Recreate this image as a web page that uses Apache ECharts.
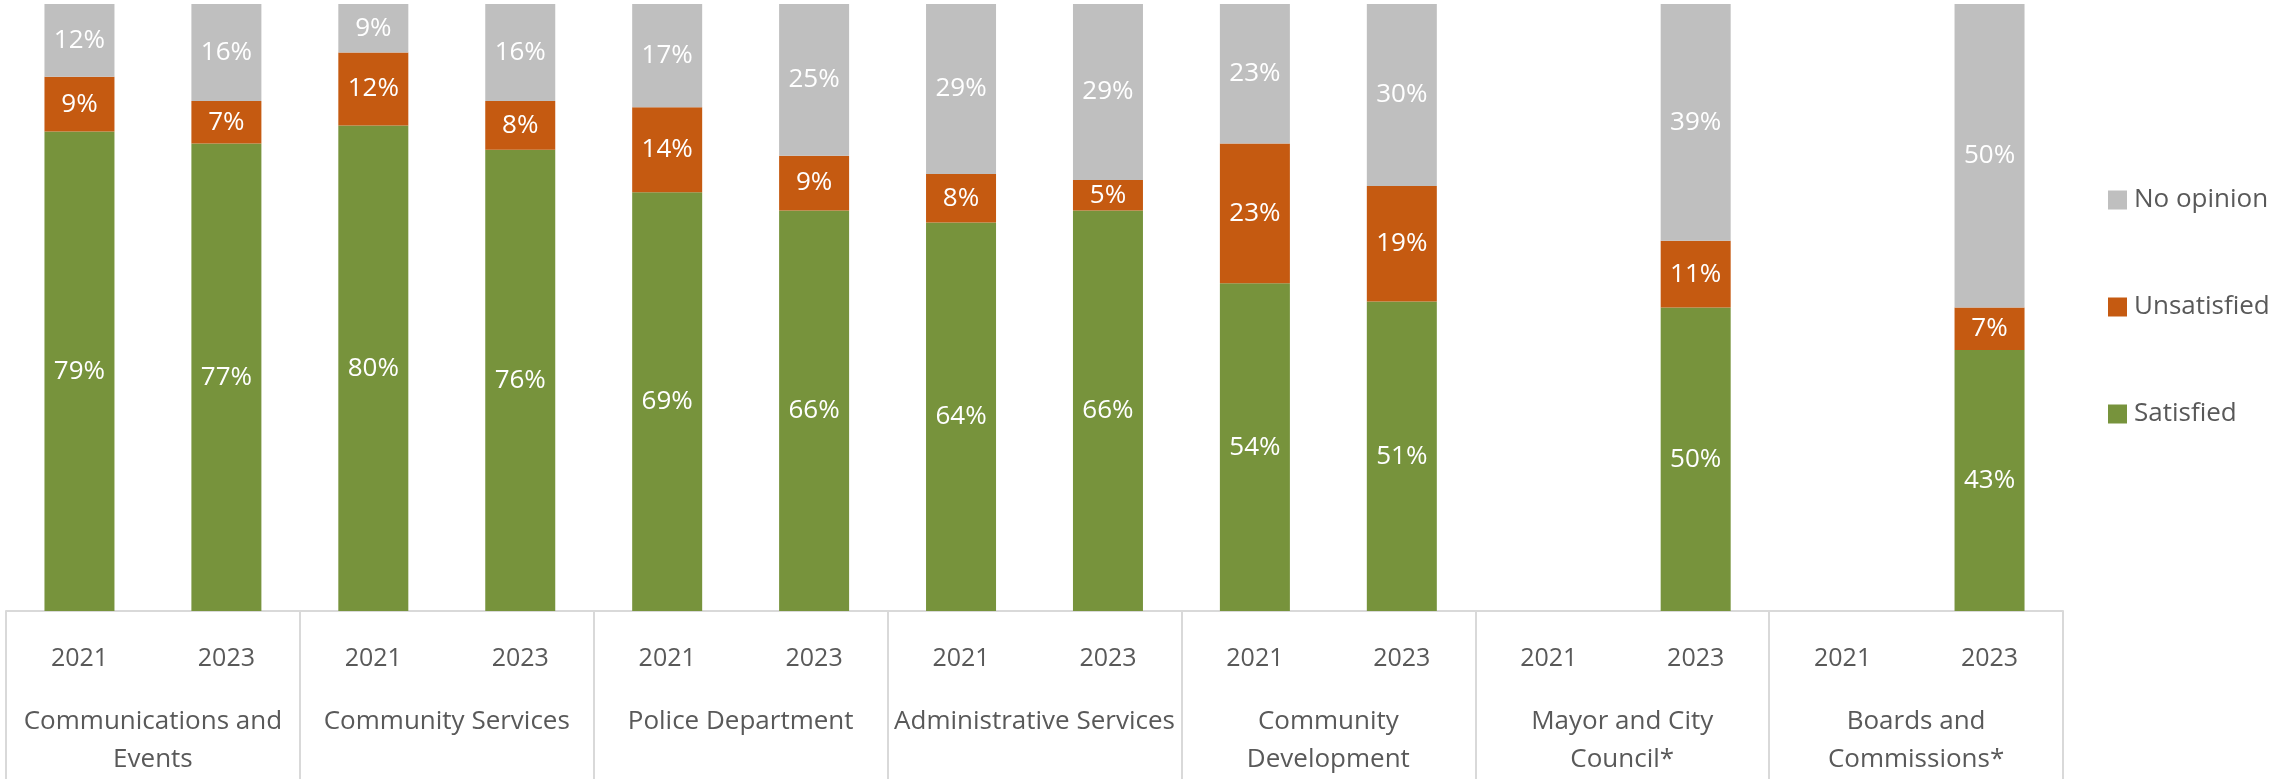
<!DOCTYPE html>
<html>
<head>
<meta charset="utf-8">
<script src="https://cdn.jsdelivr.net/npm/echarts@6/dist/echarts.min.js"></script>
<style>
  html, body { margin: 0; padding: 0; background: #ffffff; }
  #chart { width: 2277px; height: 779px; }
</style>
</head>
<body>
<div id="chart"></div>
<script>
// Departments (outer axis level) and survey years (inner axis level)
const departments = [
  'Communications and\nEvents',
  'Community Services',
  'Police Department',
  'Administrative Services',
  'Community\nDevelopment',
  'Mayor and City\nCouncil*',
  'Boards and\nCommissions*'
];
const years = ['2021', '2023'];

// One slot per department/year pair, in department order
const slots = [];
departments.forEach(() => years.forEach(y => slots.push(y)));

// Share of respondents (%), 2021 then 2023 for each department
const satisfied   = [79, 77, 80, 76, 69, 66, 64, 66, 54, 51, null, 50, null, 43];
const unsatisfied = [ 9,  7, 12,  8, 14,  9,  8,  5, 23, 19, null, 11, null,  7];
const noOpinion   = [12, 16,  9, 16, 17, 25, 29, 29, 23, 30, null, 39, null, 50];

const colors = { satisfied: '#77933C', unsatisfied: '#C55A11', noOpinion: '#BFBFBF' };
const fontFamily = '"Open Sans", "Noto Sans", sans-serif';
const axisGray = '#D9D9D9';
const textGray = '#595959';

const barLabel = {
  show: true,
  position: 'inside',
  color: '#ffffff',
  fontFamily: fontFamily,
  fontSize: 26,
  formatter: p => p.value + '%'
};

function stackSeries(name, data, color) {
  return {
    name: name,
    type: 'bar',
    stack: 'share',
    xAxisIndex: 0,
    barWidth: 70,
    data: data,
    itemStyle: { color: color },
    label: barLabel,
    emphasis: { disabled: true }
  };
}

const chart = echarts.init(document.getElementById('chart'), null, { renderer: 'canvas' });
chart.setOption({
  animation: false,
  textStyle: { fontFamily: fontFamily },
  grid: { left: 6, right: 214, top: 4, bottom: 168, containLabel: false },
  legend: {
    orient: 'vertical',
    left: 2108,
    top: 187,
    padding: 0,
    itemWidth: 19,
    itemHeight: 19,
    itemGap: 81,
    icon: 'rect',
    data: ['No opinion', 'Unsatisfied', 'Satisfied'],
    textStyle: { color: textGray, fontSize: 26, lineHeight: 26, fontFamily: fontFamily, padding: [0, 0, 0, 2] }
  },
  xAxis: [
    {
      type: 'category',
      position: 'bottom',
      data: slots,
      axisLine: { show: true, lineStyle: { color: axisGray, width: 2 } },
      axisTick: { show: false },
      axisLabel: {
        interval: 0,
        color: textGray,
        fontSize: 25,
        lineHeight: 38,
        margin: 29,
        fontFamily: fontFamily
      }
    },
    {
      type: 'category',
      position: 'bottom',
      offset: 0,
      data: departments,
      axisLine: { show: false },
      axisTick: {
        show: true,
        interval: 0,
        length: 168,
        lineStyle: { color: axisGray, width: 2 }
      },
      axisLabel: {
        interval: 0,
        color: textGray,
        fontSize: 26,
        lineHeight: 38,
        margin: 92,
        fontFamily: fontFamily
      }
    }
  ],
  yAxis: {
    type: 'value',
    min: 0,
    max: 100,
    show: false,
    splitLine: { show: false }
  },
  series: [
    stackSeries('Satisfied', satisfied, colors.satisfied),
    stackSeries('Unsatisfied', unsatisfied, colors.unsatisfied),
    stackSeries('No opinion', noOpinion, colors.noOpinion)
  ]
});
</script>
</body>
</html>
